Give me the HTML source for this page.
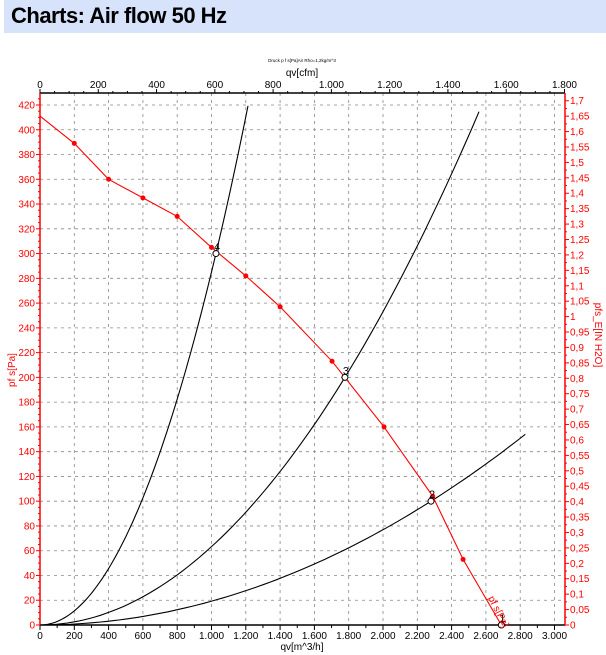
<!DOCTYPE html>
<html><head><meta charset="utf-8"><style>
body{margin:0;background:#fff;width:606px;height:655px;overflow:hidden;font-family:"Liberation Sans",Arial,sans-serif}
#hdr{position:absolute;left:4px;top:0;width:602px;height:33px;background:#d6e3fb}
#hdr span{position:absolute;left:7px;top:3px;font-size:22px;font-weight:bold;color:#000;letter-spacing:-0.5px}
svg{position:absolute;left:0;top:0}
</style></head><body>
<div id="hdr"><span>Charts: Air flow 50 Hz</span></div>
<svg id="s" width="606" height="655" xmlns="http://www.w3.org/2000/svg" font-family="Liberation Sans, Arial, sans-serif"></svg>
<script>
var s=document.getElementById('s'),h='';
function X(q){return 40+q*0.1715}
function Y(p){return 625-p*520/420}
var L=40,R=565,T=93,B=625;
for(var q=200;q<=3000;q+=200){h+='<line x1="'+X(q)+'" y1="'+T+'" x2="'+X(q)+'" y2="'+B+'" stroke="#888" stroke-dasharray="3,4" stroke-width="0.8"/>';}
for(var p=20;p<=420;p+=20){h+='<line x1="'+L+'" y1="'+Y(p)+'" x2="'+R+'" y2="'+Y(p)+'" stroke="#888" stroke-dasharray="3,4" stroke-width="0.8"/>';}
h+='<line x1="'+L+'" y1="'+T+'" x2="'+R+'" y2="'+T+'" stroke="#000" stroke-width="1.5"/>';
h+='<line x1="'+L+'" y1="'+B+'" x2="'+R+'" y2="'+B+'" stroke="#000" stroke-width="1.5"/>';
h+='<line x1="'+L+'" y1="'+T+'" x2="'+L+'" y2="'+B+'" stroke="red" stroke-width="1.5"/>';
h+='<line x1="'+R+'" y1="'+T+'" x2="'+R+'" y2="'+B+'" stroke="red" stroke-width="1.5"/>';
for(var q=0;q<=3000;q+=100){var x=X(q);h+='<line x1="'+x+'" y1="'+B+'" x2="'+x+'" y2="'+(B+(q%200?3:5))+'" stroke="#000"/>';
 if(q%200==0){var t=q>=1000?Math.floor(q/1000)+'.'+String(q%1000).padStart(3,'0'):q;h+='<text x="'+x+'" y="'+(B+14)+'" font-size="10" text-anchor="middle">'+t+'</text>';}}
h+='<text x="302" y="650" font-size="10" text-anchor="middle">qv[m^3/h]</text>';
for(var c=0;c<=1800;c+=50){var x=X(c*1.699);h+='<line x1="'+x+'" y1="'+T+'" x2="'+x+'" y2="'+(T-(c%200?2:4))+'" stroke="#000"/>';
 if(c%200==0){var t=c>=1000?Math.floor(c/1000)+'.'+String(c%1000).padStart(3,'0'):c;h+='<text x="'+x+'" y="'+(T-5)+'" font-size="10" text-anchor="middle">'+t+'</text>';}}
h+='<text x="302" y="76" font-size="10" text-anchor="middle">qv[cfm]</text>';
h+='<text x="302" y="62" font-size="4.5" text-anchor="middle">Druck p f s[Pa]Air Rho=1,2kg/m^3</text>';
for(var p=0;p<=425;p+=5){var y=Y(p);h+='<line x1="'+L+'" y1="'+y+'" x2="'+(L-(p%20?2:4))+'" y2="'+y+'" stroke="red"/>';
 if(p%20==0)h+='<text x="'+(L-5)+'" y="'+(y+3.5)+'" font-size="10" fill="red" text-anchor="end">'+p+'</text>';}
h+='<text transform="translate(15,370) rotate(-90)" font-size="10" fill="red" text-anchor="middle">pf s[Pa]</text>';
for(var i=0;i<=68;i++){var v=i*0.025,y=Y(v*249.09);if(y<T)break;h+='<line x1="'+R+'" y1="'+y+'" x2="'+(R+(i%2?2:4))+'" y2="'+y+'" stroke="red"/>';
 if(i%2==0){var t=(Math.round(v*100)/100).toString().replace('.',',');h+='<text x="'+(R+5)+'" y="'+(y+3.5)+'" font-size="10" fill="red">'+t+'</text>';}}
h+='<text transform="translate(595,335) rotate(90)" font-size="10" fill="red" text-anchor="middle">pfs_E[IN H2O]</text>';
function sys(q0,p0,qmax){var d='';for(var q=0;q<=qmax;q+=qmax/80){d+=(q?'L':'M')+X(q).toFixed(1)+','+Y(p0*(q/q0)*(q/q0)).toFixed(1);}return '<path d="'+d+'" fill="none" stroke="#000" stroke-width="1.1"/>';}
h+=sys(1026,300,1213);h+=sys(1778,200,2560);h+=sys(2280,100,2830);
var pts=[[0,411],[200,389],[400,360],[600,345],[800,330],[1000,305],[1200,282],[1400,257],[1703,213],[2006,160],[2290,104],[2467,53],[2690,0]];
var d='';pts.forEach(function(a,i){d+=(i?'L':'M')+X(a[0]).toFixed(1)+','+Y(a[1]).toFixed(1);});
h+='<path d="'+d+'" fill="none" stroke="red" stroke-width="1.1"/>';
pts.slice(1,12).forEach(function(a){h+='<circle cx="'+X(a[0])+'" cy="'+Y(a[1])+'" r="2.5" fill="red"/>';});
[[1026,300,'4'],[1778,200,'3'],[2280,100,'2'],[2690,0,'1']].forEach(function(a){var x=X(a[0]),y=Y(a[1]);
h+='<circle cx="'+x+'" cy="'+y+'" r="3" fill="#fff" stroke="#000"/>';
h+='<text x="'+(x-2)+'" y="'+(y-3)+'" font-size="11">'+a[2]+'</text>';});
h+='<text transform="translate(488,598) rotate(63)" font-size="10" fill="red">pf s[Pa]</text>';
s.innerHTML=h;
</script>
</body></html>
